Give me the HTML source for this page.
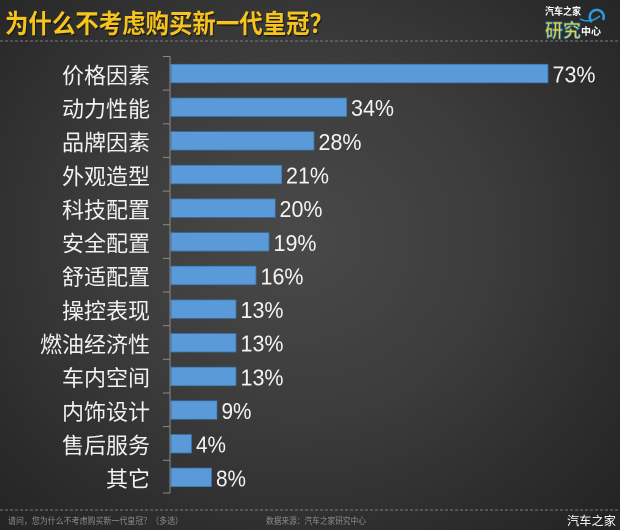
<!DOCTYPE html>
<html>
<head>
<meta charset="utf-8">
<style>
  html, body { margin:0; padding:0; }
  body { width:620px; height:530px; overflow:hidden;
    background: radial-gradient(ellipse 70% 75% at 48% 45%, #494949 0%, #3c3c3c 45%, #2c2c2c 80%, #242424 100%); }
  svg { display:block; }
  .cat { font-family:"Liberation Sans","Noto Sans CJK SC",sans-serif; font-size:22px; fill:#f2f2f2; }
  .pct { font-family:"Liberation Sans",sans-serif; font-size:23px; fill:#f4f4f4; }
  .ft { font-family:"Liberation Sans","Noto Sans CJK SC",sans-serif; font-size:9px; fill:#8c8c8c; }
</style>
</head>
<body>
<svg width="620" height="530" viewBox="0 0 620 530" xmlns="http://www.w3.org/2000/svg">
  <!-- Title -->
  <text x="5" y="33" font-family="Liberation Sans,Noto Sans CJK SC,sans-serif" font-size="26" font-weight="bold" fill="#1a1a1a" textLength="328" lengthAdjust="spacingAndGlyphs" transform="translate(1,1.5)">为什么不考虑购买新一代皇冠？</text>
  <text x="5" y="33" font-family="Liberation Sans,Noto Sans CJK SC,sans-serif" font-size="26" font-weight="bold" fill="#f6c41c" textLength="328" lengthAdjust="spacingAndGlyphs">为什么不考虑购买新一代皇冠？</text>

  <!-- Logo -->
  <text x="545" y="15" font-family="Liberation Sans,Noto Sans CJK SC,sans-serif" font-size="10" font-weight="bold" fill="#ffffff" textLength="36" lengthAdjust="spacingAndGlyphs">汽车之家</text>
  <path d="M592,22 A7,7 0 1 1 603,20" fill="none" stroke="#2b9be0" stroke-width="2.5"/>
  <path d="M580,19 Q590,24 600,16" fill="none" stroke="#2b9be0" stroke-width="1.5"/>
  <text x="545" y="37" font-family="Liberation Sans,Noto Sans CJK SC,sans-serif" font-size="19" font-weight="bold" fill="#f3d21c" stroke="#1f6fb8" stroke-width="0.8" textLength="36" lengthAdjust="spacingAndGlyphs">研究</text>
  <text x="581" y="35" font-family="Liberation Sans,Noto Sans CJK SC,sans-serif" font-size="10" font-weight="bold" fill="#ffffff">中心</text>

  <!-- Dashed lines -->
  <line x1="0" y1="41" x2="620" y2="41" stroke="#7a7a7a" stroke-width="1" stroke-dasharray="3,2"/>
  <line x1="0" y1="510" x2="620" y2="510" stroke="#7a7a7a" stroke-width="1" stroke-dasharray="3,2"/>

  <!-- Axis -->
  <line x1="170" y1="56" x2="170" y2="493" stroke="#8a8a8a" stroke-width="1"/>
  <g stroke="#8a8a8a" stroke-width="1">
    <line x1="163" y1="56.5" x2="170" y2="56.5"/>
    <line x1="163" y1="90.1" x2="170" y2="90.1"/>
    <line x1="163" y1="123.8" x2="170" y2="123.8"/>
    <line x1="163" y1="157.4" x2="170" y2="157.4"/>
    <line x1="163" y1="191.1" x2="170" y2="191.1"/>
    <line x1="163" y1="224.7" x2="170" y2="224.7"/>
    <line x1="163" y1="258.4" x2="170" y2="258.4"/>
    <line x1="163" y1="292.0" x2="170" y2="292.0"/>
    <line x1="163" y1="325.7" x2="170" y2="325.7"/>
    <line x1="163" y1="359.3" x2="170" y2="359.3"/>
    <line x1="163" y1="393.0" x2="170" y2="393.0"/>
    <line x1="163" y1="426.6" x2="170" y2="426.6"/>
    <line x1="163" y1="460.3" x2="170" y2="460.3"/>
    <line x1="163" y1="493" x2="170" y2="493"/>
  </g>

  <!-- Bars -->
  <g fill="#5a9ad8" stroke="#3a72a8" stroke-width="0.8">
    <rect x="171" y="64.3" width="377" height="18.5"/>
    <rect x="171" y="98.0" width="175.7" height="18.5"/>
    <rect x="171" y="131.6" width="143" height="18.5"/>
    <rect x="171" y="165.3" width="110.7" height="18.5"/>
    <rect x="171" y="198.9" width="104.3" height="18.5"/>
    <rect x="171" y="232.6" width="98" height="18.5"/>
    <rect x="171" y="266.2" width="85" height="18.5"/>
    <rect x="171" y="299.9" width="65" height="18.5"/>
    <rect x="171" y="333.5" width="65" height="18.5"/>
    <rect x="171" y="367.2" width="65" height="18.5"/>
    <rect x="171" y="400.8" width="46" height="18.5"/>
    <rect x="171" y="434.5" width="20.5" height="18.5"/>
    <rect x="171" y="468.1" width="40.5" height="18.5"/>
  </g>

  <!-- Category labels -->
  <g class="cat" text-anchor="end">
    <text x="150" y="83.3">价格因素</text>
    <text x="150" y="117.0">动力性能</text>
    <text x="150" y="150.6">品牌因素</text>
    <text x="150" y="184.3">外观造型</text>
    <text x="150" y="217.9">科技配置</text>
    <text x="150" y="251.6">安全配置</text>
    <text x="150" y="285.2">舒适配置</text>
    <text x="150" y="318.9">操控表现</text>
    <text x="150" y="352.5">燃油经济性</text>
    <text x="150" y="386.2">车内空间</text>
    <text x="150" y="419.8">内饰设计</text>
    <text x="150" y="453.5">售后服务</text>
    <text x="150" y="487.1">其它</text>
  </g>

  <!-- Percent labels -->
  <g class="pct">
    <text x="552.5" y="82.5" textLength="43" lengthAdjust="spacingAndGlyphs">73%</text>
    <text x="351" y="116.2" textLength="43" lengthAdjust="spacingAndGlyphs">34%</text>
    <text x="318.5" y="149.8" textLength="43" lengthAdjust="spacingAndGlyphs">28%</text>
    <text x="286" y="183.5" textLength="43" lengthAdjust="spacingAndGlyphs">21%</text>
    <text x="279.5" y="217.1" textLength="43" lengthAdjust="spacingAndGlyphs">20%</text>
    <text x="273.5" y="250.8" textLength="43" lengthAdjust="spacingAndGlyphs">19%</text>
    <text x="260.5" y="284.4" textLength="43" lengthAdjust="spacingAndGlyphs">16%</text>
    <text x="240.5" y="318.1" textLength="43" lengthAdjust="spacingAndGlyphs">13%</text>
    <text x="240.5" y="351.7" textLength="43" lengthAdjust="spacingAndGlyphs">13%</text>
    <text x="240.5" y="385.4" textLength="43" lengthAdjust="spacingAndGlyphs">13%</text>
    <text x="221.5" y="419.0" textLength="30" lengthAdjust="spacingAndGlyphs">9%</text>
    <text x="196" y="452.7" textLength="30" lengthAdjust="spacingAndGlyphs">4%</text>
    <text x="216" y="486.3" textLength="30" lengthAdjust="spacingAndGlyphs">8%</text>
  </g>

  <!-- Footer -->
  <text class="ft" x="8" y="524" textLength="175" lengthAdjust="spacingAndGlyphs">请问，您为什么不考虑购买新一代皇冠？（多选）</text>
  <text class="ft" x="266" y="524" textLength="100" lengthAdjust="spacingAndGlyphs" fill="#a8a8a8">数据来源：汽车之家研究中心</text>
  <text x="567" y="525" font-family="Liberation Sans,Noto Sans CJK SC,sans-serif" font-size="12" fill="#ffffff" textLength="49" lengthAdjust="spacingAndGlyphs">汽车之家</text>
</svg>
</body>
</html>
